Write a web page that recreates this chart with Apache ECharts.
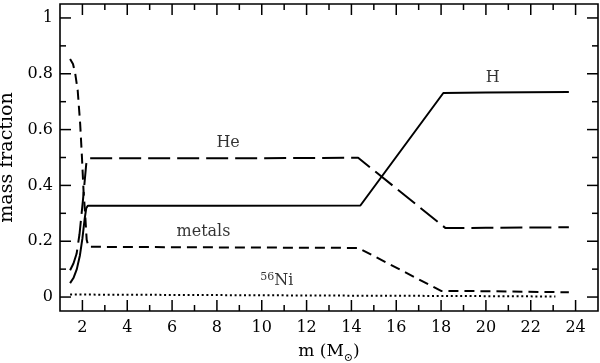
<!DOCTYPE html>
<html><head><meta charset="utf-8">
<script src="https://cdn.jsdelivr.net/npm/echarts@6/dist/echarts.min.js"></script>
<style>html,body{margin:0;padding:0;background:#fff}#c{width:600px;height:363px}</style>
</head><body><div id="c"></div>
<script>
const xMajorTicks = [2,4,6,8,10,12,14,16,18,20,22,24];
const xMinorTicks = [3,5,7,9,11,13,15,17,19,21,23];
const yMajorTicks = [0,0.2,0.4,0.6,0.8,1];
const yMinorTicks = [0.1,0.3,0.5,0.7,0.9];

const H = [[1.45,0.05],[1.6,0.068],[1.75,0.1],[1.89,0.15],[2.0,0.21],[2.1,0.28],[2.17,0.318],[2.24,0.327],[8,0.327],[14.4,0.328],[18.1,0.731],[20,0.733],[23.7,0.735]];
const He = [[1.45,0.096],[1.6,0.12],[1.74,0.155],[1.87,0.225],[2.02,0.344],[2.17,0.476],[2.26,0.497],[8,0.497],[14.3,0.499],[18.2,0.247],[20,0.248],[23.7,0.25]];
const metals = [[1.45,0.853],[1.58,0.835],[1.68,0.8],[1.79,0.74],[1.9,0.62],[1.98,0.5],[2.05,0.38],[2.12,0.3],[2.19,0.205],[2.27,0.18],[8,0.178],[14.3,0.176],[18.0,0.022],[20,0.021],[23.7,0.017]];
const Ni = [[1.45,0.009],[8,0.007],[14,0.005],[18,0.004],[23.1,0.002]];

const annotations = [[8.5,0.553,'He'],[20.3,0.787,'H'],[7.4,0.232,'metals'],[10.67,0.057,'{sup|56}Ni']];

const FONT = 'DejaVu Serif';
const xMin = 1, xMax = 25, yMin = -0.05, yMax = 1.05;
const MAJOR = 11, MINOR = 6;

// Tick marks drawn through the library's own scales (api.coord), inward on all four sides.
function tickSeries(values, side, len){
  const isX = side === 'bottom' || side === 'top';
  return {
    type:'custom', coordinateSystem:'cartesian2d', silent:true, clip:false, z:5,
    data: values.map(v => isX ? [v, yMin] : [xMin, v]),
    renderItem: function(params, api){
      let p, shape;
      if (side === 'bottom'){ p = api.coord([api.value(0), yMin]); shape = {x1:p[0], y1:p[1], x2:p[0], y2:p[1]-len}; }
      else if (side === 'top'){ p = api.coord([api.value(0), yMax]); shape = {x1:p[0], y1:p[1], x2:p[0], y2:p[1]+len}; }
      else if (side === 'left'){ p = api.coord([xMin, api.value(1)]); shape = {x1:p[0], y1:p[1], x2:p[0]+len, y2:p[1]}; }
      else { p = api.coord([xMax, api.value(1)]); shape = {x1:p[0], y1:p[1], x2:p[0]-len, y2:p[1]}; }
      return {type:'line', shape:shape, style:{stroke:'#000', lineWidth:1.5}};
    }
  };
}

const chart = echarts.init(document.getElementById('c'), null, {renderer:'canvas'});
chart.setOption({
  animation:false,
  backgroundColor:'#fff',
  grid:{left:60, right:2, top:4, bottom:52, containLabel:false, outerBoundsMode:'none',
    show:true, borderColor:'#000', borderWidth:1.6, backgroundColor:'transparent'},
  xAxis:{type:'value', position:'bottom', min:xMin, max:xMax,
    axisLine:{show:false, onZero:false}, splitLine:{show:false}, axisTick:{show:false},
    axisLabel:{show:true, customValues:xMajorTicks, color:'#000', fontFamily:FONT, fontSize:16, margin:9},
    name:'{a|m (M}{s|⊙}{a|)}', nameLocation:'middle', nameGap:29,
    nameTextStyle:{rich:{a:{fontFamily:FONT,fontSize:17,color:'#000',lineHeight:24,verticalAlign:'middle'},
      s:{fontFamily:FONT,fontSize:11,color:'#000',lineHeight:24,verticalAlign:'bottom'}}}},
  yAxis:{type:'value', position:'left', min:yMin, max:yMax,
    axisLine:{show:false, onZero:false}, splitLine:{show:false}, axisTick:{show:false},
    axisLabel:{show:true, customValues:yMajorTicks, color:'#000', fontFamily:FONT, fontSize:16, margin:7,
      formatter:v=>String(Math.round(v*10)/10)},
    name:'mass fraction', nameLocation:'middle', nameGap:38,
    nameTextStyle:{fontFamily:FONT, fontSize:19, color:'#000'}},
  series:[
    tickSeries(xMajorTicks,'bottom',MAJOR), tickSeries(xMinorTicks,'bottom',MINOR),
    tickSeries(xMajorTicks,'top',MAJOR), tickSeries(xMinorTicks,'top',MINOR),
    tickSeries(yMajorTicks,'left',MAJOR), tickSeries(yMinorTicks,'left',MINOR),
    tickSeries(yMajorTicks,'right',MAJOR), tickSeries(yMinorTicks,'right',MINOR),
    {type:'line', data:H, showSymbol:false, lineStyle:{color:'#000', width:2}},
    {type:'line', data:He, showSymbol:false, lineStyle:{color:'#000', width:2, type:[22,7]}},
    {type:'line', data:metals, showSymbol:false, lineStyle:{color:'#000', width:2, type:[10,6]}},
    {type:'line', data:Ni, showSymbol:false, lineStyle:{color:'#000', width:2, type:[2,2.7]}},
    {type:'scatter', symbolSize:0, data:annotations.map(a=>({value:[a[0],a[1]], name:a[2]})),
      label:{show:true, position:'inside', formatter:p=>p.name, color:'#000', fontFamily:FONT, fontSize:16,
        rich:{sup:{fontFamily:FONT, fontSize:11, color:'#000', verticalAlign:'top', lineHeight:18}}}}
  ]
});
</script></body></html>
